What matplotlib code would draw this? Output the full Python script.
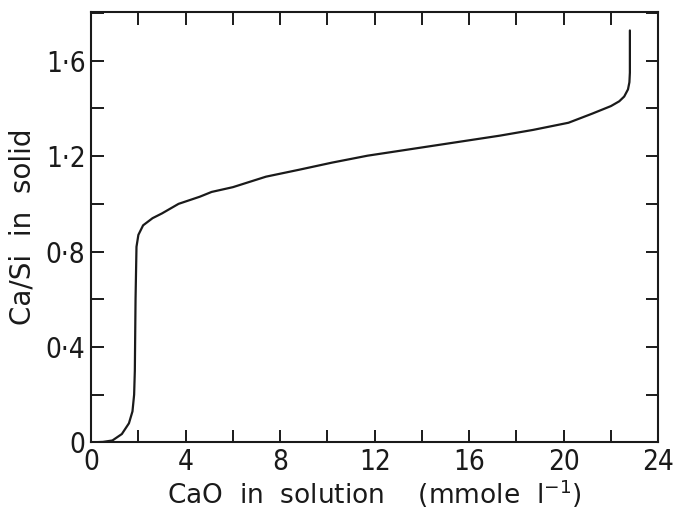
import matplotlib
matplotlib.use("Agg")
import matplotlib.pyplot as plt
from matplotlib.ticker import MultipleLocator, FuncFormatter

# Data
cao_solution = [0.0, 0.5, 0.9, 1.3, 1.6, 1.75, 1.82, 1.85, 1.88, 1.92, 2.0, 2.2, 2.6,
                3.0, 3.7, 4.6, 5.1, 6.0, 7.4, 8.8, 10.2, 11.7, 13.1, 14.5, 15.9,
                17.3, 18.7, 20.2, 21.2, 22.0, 22.35, 22.56, 22.72, 22.78, 22.8, 22.8]
ca_si_solid = [0.0, 0.002, 0.008, 0.035, 0.08, 0.13, 0.2, 0.3, 0.6, 0.82, 0.87, 0.91, 0.94,
               0.96, 1.0, 1.03, 1.05, 1.07, 1.114, 1.143, 1.173, 1.202, 1.223, 1.244, 1.265,
               1.286, 1.31, 1.34, 1.378, 1.41, 1.43, 1.45, 1.48, 1.51, 1.55, 1.727]

x_ticks = [0, 4, 8, 12, 16, 20, 24]
y_ticks = [0, 0.4, 0.8, 1.2, 1.6]

plt.rcParams['font.family'] = ['DejaVu Sans']

fig = plt.figure(figsize=(6.8, 5.15), dpi=100)
ax = fig.add_axes([0.134, 0.141, 0.834, 0.836])

ink = '#1a1a1a'
ax.plot(cao_solution, ca_si_solid, color=ink, lw=1.6, solid_capstyle='round', solid_joinstyle='round')

ax.set_xlim(0, 24)
ax.set_ylim(0, 1.805)
ax.set_xticks(x_ticks)
ax.set_yticks(y_ticks)
ax.xaxis.set_minor_locator(MultipleLocator(2))
ax.yaxis.set_minor_locator(MultipleLocator(0.2))

def yfmt(v, pos):
    if abs(v) < 1e-9:
        return '0'
    return ('%.1f' % v).replace('.', '\u00b7')

ax.yaxis.set_major_formatter(FuncFormatter(yfmt))
ax.xaxis.set_major_formatter(FuncFormatter(lambda v, p: '%d' % round(v)))

for s in ax.spines.values():
    s.set_linewidth(1.5)
    s.set_color(ink)

ax.tick_params(which='both', direction='in', top=True, right=True, length=9,
               width=1.4, color=ink, labelcolor=ink)
ax.tick_params(axis='y', which='major', pad=4)
ax.tick_params(axis='x', which='major', pad=4)
for lab in ax.get_xticklabels() + ax.get_yticklabels():
    lab.set_fontsize(20)
    lab.set_fontstretch('condensed')

ax.set_xlabel('CaO  in  solution    (mmole  l$^{-1}$)', fontsize=19, color=ink, labelpad=1)
ax.set_ylabel('Ca/Si  in  solid', fontsize=20, color=ink, labelpad=7)

fig.savefig('out.png', dpi=100, facecolor='white')
